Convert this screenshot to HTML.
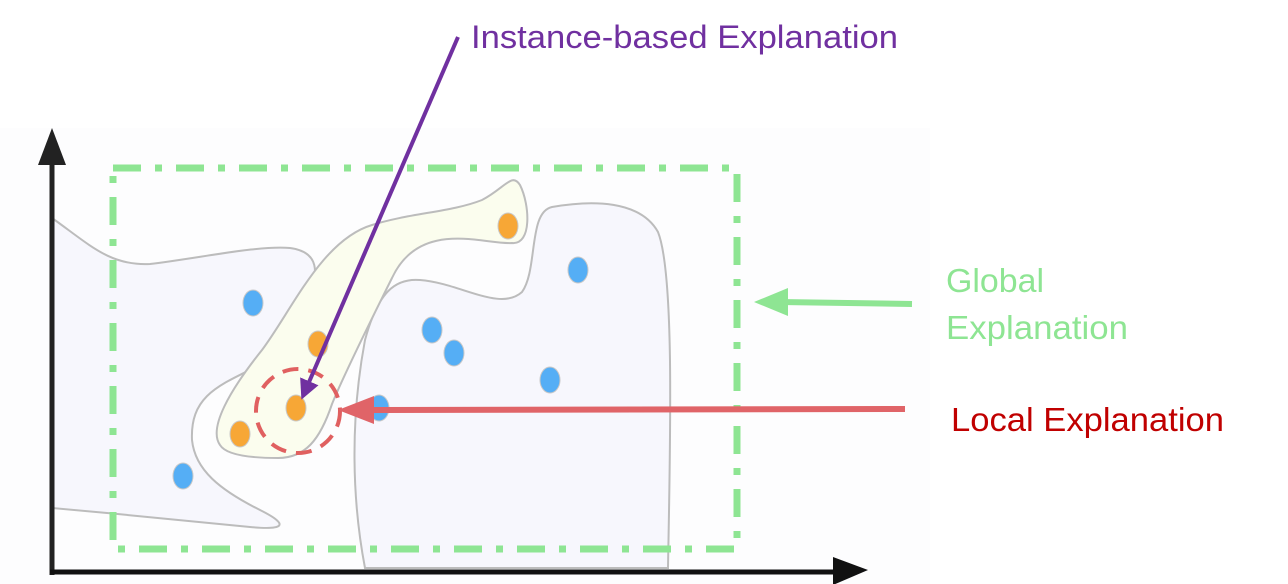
<!DOCTYPE html>
<html><head><meta charset="utf-8"><style>
html,body{margin:0;padding:0;background:#fff;}
svg{display:block;font-family:"Liberation Sans",sans-serif;}
</style></head><body>
<svg width="1288" height="584" viewBox="0 0 1288 584">
<defs>
<marker id="ph" viewBox="0 0 10 10" refX="8" refY="5" markerWidth="5" markerHeight="5" orient="auto"><path d="M0,0L10,5L0,10z" fill="#7030a0"/></marker>
</defs>
<rect x="0" y="128" width="930" height="456" fill="#fdfdfe"/>
<path d="M52,218 C90,245 110,266 150,264 C200,258 260,245 290,248 C320,252 318,272 310,300 C300,330 285,350 260,365 C220,385 190,395 192,440 C195,470 220,490 260,510 C292,526 282,530 250,527 C200,522 120,514 52,508 Z" fill="#f7f7fd" stroke="#bcbcbc" stroke-width="2"/>
<path d="M365,568 C352,500 350,420 365,340 C378,292 395,278 420,280 C460,283 500,312 522,292 C538,270 528,212 552,207 C592,200 640,200 658,232 C675,275 670,450 668,568 Z" fill="#f7f7fd" stroke="#bcbcbc" stroke-width="2"/>
<path d="M220,445 C208,428 230,390 262,350 C292,310 322,240 372,225 C410,213 452,212 482,200 C505,188 512,172 520,185 C530,205 532,245 512,243 C485,245 420,218 392,278 C375,312 345,372 332,404 C320,440 305,458 278,458 C250,458 226,455 220,445 Z" fill="#fbfdee" stroke="#bcbcbc" stroke-width="2"/>
<rect x="113" y="168" width="624" height="381" fill="none" stroke="#8ee593" stroke-width="7" stroke-dasharray="28 14 7 14"/>
<g id="pts"></g>
<circle cx="298" cy="411" r="42" fill="none" stroke="#e06060" stroke-width="4" stroke-dasharray="16 10"/>
<line x1="52" y1="575" x2="52" y2="155" stroke="#222" stroke-width="5"/>
<path d="M38,165 L52,128 L66,165 Z" fill="#222"/>
<line x1="50" y1="572" x2="840" y2="572" stroke="#111" stroke-width="5"/>
<path d="M833,557 L868,570 L833,585 Z" fill="#111"/>
<line x1="905" y1="409" x2="365" y2="410" stroke="#e06468" stroke-width="6"/>
<path d="M374,396 L338,410 L374,424 Z" fill="#e06468"/>
<line x1="912" y1="304" x2="780" y2="302" stroke="#8ee593" stroke-width="6"/>
<path d="M788,288 L754,302 L788,316 Z" fill="#8ee593"/>
<line x1="458" y1="37" x2="303" y2="396" stroke="#7030a0" stroke-width="4" marker-end="url(#ph)"/>
<text x="471" y="48" font-size="32" fill="#7030a0" textLength="427" lengthAdjust="spacingAndGlyphs">Instance-based Explanation</text>
<text x="946" y="292" font-size="33" fill="#8ee593" textLength="98" lengthAdjust="spacingAndGlyphs">Global</text>
<text x="946" y="339" font-size="33" fill="#8ee593" textLength="182" lengthAdjust="spacingAndGlyphs">Explanation</text>
<text x="951" y="431" font-size="33" fill="#c00000" textLength="273" lengthAdjust="spacingAndGlyphs">Local Explanation</text>
</svg>
<script>
const blueX=[253,183,432,454,578,550,379];
const blueY=[303,476,330,353,270,380,408];
const orangeX=[508,318,296,240];
const orangeY=[226,344,408,434];
const g=document.getElementById('pts');
const NS='http://www.w3.org/2000/svg';
function add(xs,ys,col,nm){
  for(let i=0;i<xs.length;i++){
    const c=document.createElementNS(NS,'ellipse');
    c.setAttribute('cx',xs[i]);c.setAttribute('cy',ys[i]);
    c.setAttribute('rx',10);c.setAttribute('ry',13);
    c.setAttribute('fill',col);c.setAttribute('stroke','#c8c8c8');c.setAttribute('stroke-width','1');
    
    
    g.appendChild(c);
  }
}
add(blueX,blueY,'#55aef5','blue-point');
add(orangeX,orangeY,'#f7a736','orange-point');
</script>
</body></html>
